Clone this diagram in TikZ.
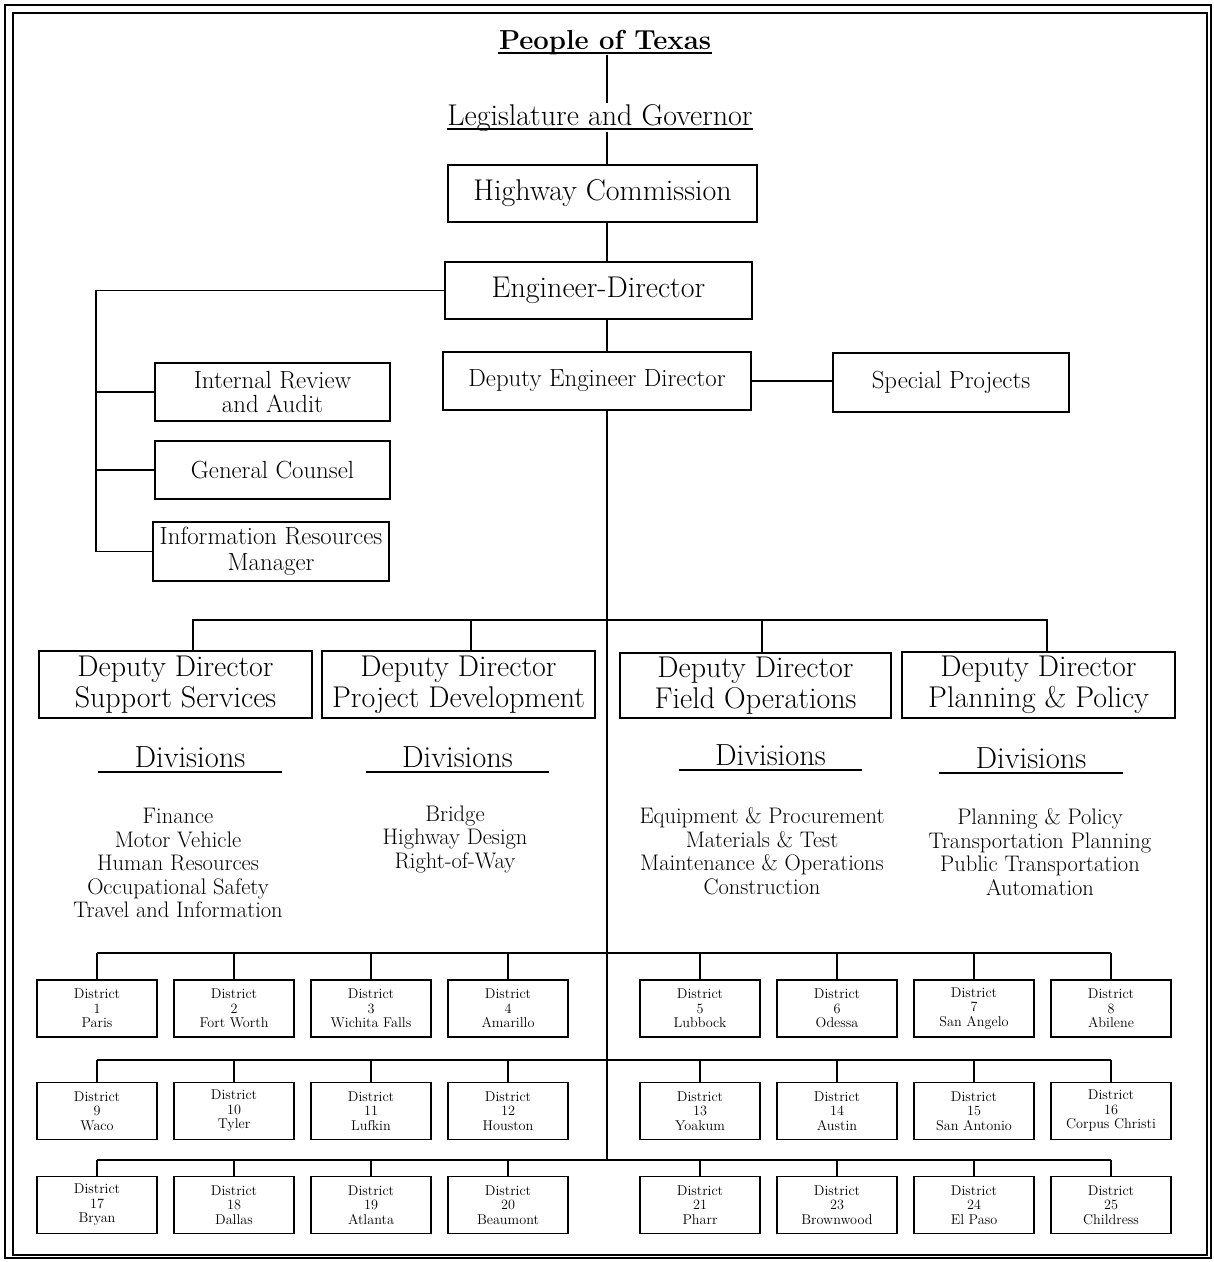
\documentclass[tikz,border=0pt]{standalone}
\usepackage{fontspec}

\begin{document}
\begin{tikzpicture}[
  x=1pt, y=-1pt,
  line width=1.6pt,
  office/.style={rectangle,draw,line width=1.8pt,align=center,inner sep=2pt},
  bigtext/.style={font=\fontsize{30}{32}\selectfont},
  midtext/.style={font=\fontsize{24.8}{24.5}\selectfont},
  deputy/.style={office,minimum width=273pt,minimum height=67pt,font=\fontsize{30}{31}\selectfont},
  district/.style={office,minimum width=120pt,minimum height=57pt,font=\fontsize{14.2}{14.5}\selectfont},
  heading/.style={inner sep=0pt,anchor=base},
  divhead/.style={heading,minimum width=182pt,font=\fontsize{30.5}{32}\selectfont},
  divlist/.style={align=center,font=\fontsize{22.5}{23.5}\selectfont}]

\useasboundingbox (0,0) rectangle (1214,1262);
\draw (5,5) rectangle (1211,1258);
\draw[line width=1.2pt] (13,13) rectangle (1207,1255);

\coordinate (spine) at (607,0);

% top of the chart
\node[heading,font=\fontsize{27.5}{30}\selectfont\bfseries] (people) at (605,49) {People of Texas};
\draw[line width=2.2pt] ([yshift=-4pt]people.base west) -- ([yshift=-4pt]people.base east);
\node[heading,bigtext] (legis) at (600,125) {Legislature and Governor};
\draw ([yshift=-4pt]legis.base west) -- ([yshift=-4pt]legis.base east);

\node[office,bigtext,minimum width=309pt,minimum height=57pt] (hc) at (602.5,193.5) {Highway Commission};
\node[office,bigtext,minimum width=307pt,minimum height=57pt] (ed) at (598.5,290.5) {Engineer-Director};
\node[office,midtext,minimum width=308pt,minimum height=58pt] (ded) at (597,381) {Deputy Engineer Director};
\node[office,midtext,minimum width=236pt,minimum height=59pt] (sp) at (951,382.5) {Special Projects};

\draw (people.south -| spine) -- (legis.north -| spine);
\draw (legis.south -| spine) -- (hc.north -| spine);
\draw (hc.south -| spine) -- (ed.north -| spine);
\draw (ed.south -| spine) -- (ded.north -| spine);
\draw (ded.east) -- (ded.east -| sp.west);

% staff offices
\node[office,midtext,minimum width=235pt,minimum height=58pt] (ira) at (272.5,392) {Internal Review\\and Audit};
\node[office,midtext,minimum width=235pt,minimum height=58pt] (gc) at (272.5,470) {General Counsel};
\node[office,midtext,minimum width=236pt,minimum height=59pt,font=\fontsize{24.8}{25.5}\selectfont] (irm) at (271,551.5) {Information Resources\\Manager};

\coordinate (ltop) at (96,290.5);
\draw (ed.west) -| (irm.west -| ltop) -- (irm.west);
\draw (ira.west -| ltop) -- (ira.west);
\draw (gc.west -| ltop) -- (gc.west);

% deputy directors
\node[deputy] (ss) at (175.5,684.5) {Deputy Director\\Support Services};
\node[deputy] (pd) at (458.5,684.5) {Deputy Director\\Project Development};
\node[deputy,minimum width=271pt,minimum height=65pt] (fo) at (755.5,685.5) {Deputy Director\\Field Operations};
\node[deputy,minimum height=66pt] (pp) at (1038.5,685) {Deputy Director\\Planning \& Policy};

\coordinate (ddbus) at (607,620);
\draw ([xshift=17.5pt]ss.north) |- (ddbus) -| ([xshift=8.5pt]pp.north);
\draw ([xshift=12.5pt]pd.north) -- ([xshift=12.5pt]pd.north |- ddbus);
\draw ([xshift=6.5pt]fo.north) -- ([xshift=6.5pt]fo.north |- ddbus);

% divisions
\node[divhead] (divss) at (190,767) {Divisions};
\node[divhead] (divpd) at (457.5,767) {Divisions};
\node[divhead] (divfo) at (770.5,765) {Divisions};
\node[divhead] (divpp) at (1031,768) {Divisions};
\foreach \d in {divss,divpd,divfo,divpp}
  \draw ([yshift=-5pt]\d.base west) -- ([yshift=-5pt]\d.base east);

\node[divlist] (listss) at (178,863) {Finance\\Motor Vehicle\\Human Resources\\Occupational Safety\\Travel and Information};
\node[divlist] (listpd) at (455,839) {Bridge\\Highway Design\\Right-of-Way};
\node[divlist] (listfo) at (762,851) {Equipment \& Procurement\\Materials \& Test\\Maintenance \& Operations\\Construction};
\node[divlist] (listpp) at (1040,852) {Planning \& Policy\\Transportation Planning\\Public Transportation\\Automation};

% districts
\coordinate (bus0) at (607,953);
\coordinate (bus1) at (607,1060);
\coordinate (bus2) at (607,1160);
\foreach \num/\town [count=\i] in {1/Paris,2/Fort Worth,3/Wichita Falls,4/Amarillo,5/Lubbock,6/Odessa,7/San Angelo,8/Abilene,
    9/Waco,10/Tyler,11/Lufkin,12/Houston,13/Yoakum,14/Austin,15/San Antonio,16/Corpus Christi,
    17/Bryan,18/Dallas,19/Atlanta,20/Beaumont,21/Pharr,23/Brownwood,24/El Paso,25/Childress} {
  \pgfmathtruncatemacro\row{(\i-1)/8}
  \pgfmathtruncatemacro\col{mod(\i-1,8)}
  \pgfmathsetmacro\xx{\col<4 ? 97+137*\col : 700+137*(\col-4)}
  \pgfmathsetmacro\yy{{1008.5,1111,1205}[\row]}
  \node[district] (dist\num) at (\xx,\yy) {District\\\num\\\town};
  \draw (dist\num.north) -- (dist\num.north |- bus\row);
}
\draw (dist1.north |- bus0) -- (dist8.north |- bus0);
\draw (dist9.north |- bus1) -- (dist16.north |- bus1);
\draw (dist17.north |- bus2) -- (dist25.north |- bus2);
\draw (ded.south -| spine) -- (bus2);
\end{tikzpicture}
\end{document}
